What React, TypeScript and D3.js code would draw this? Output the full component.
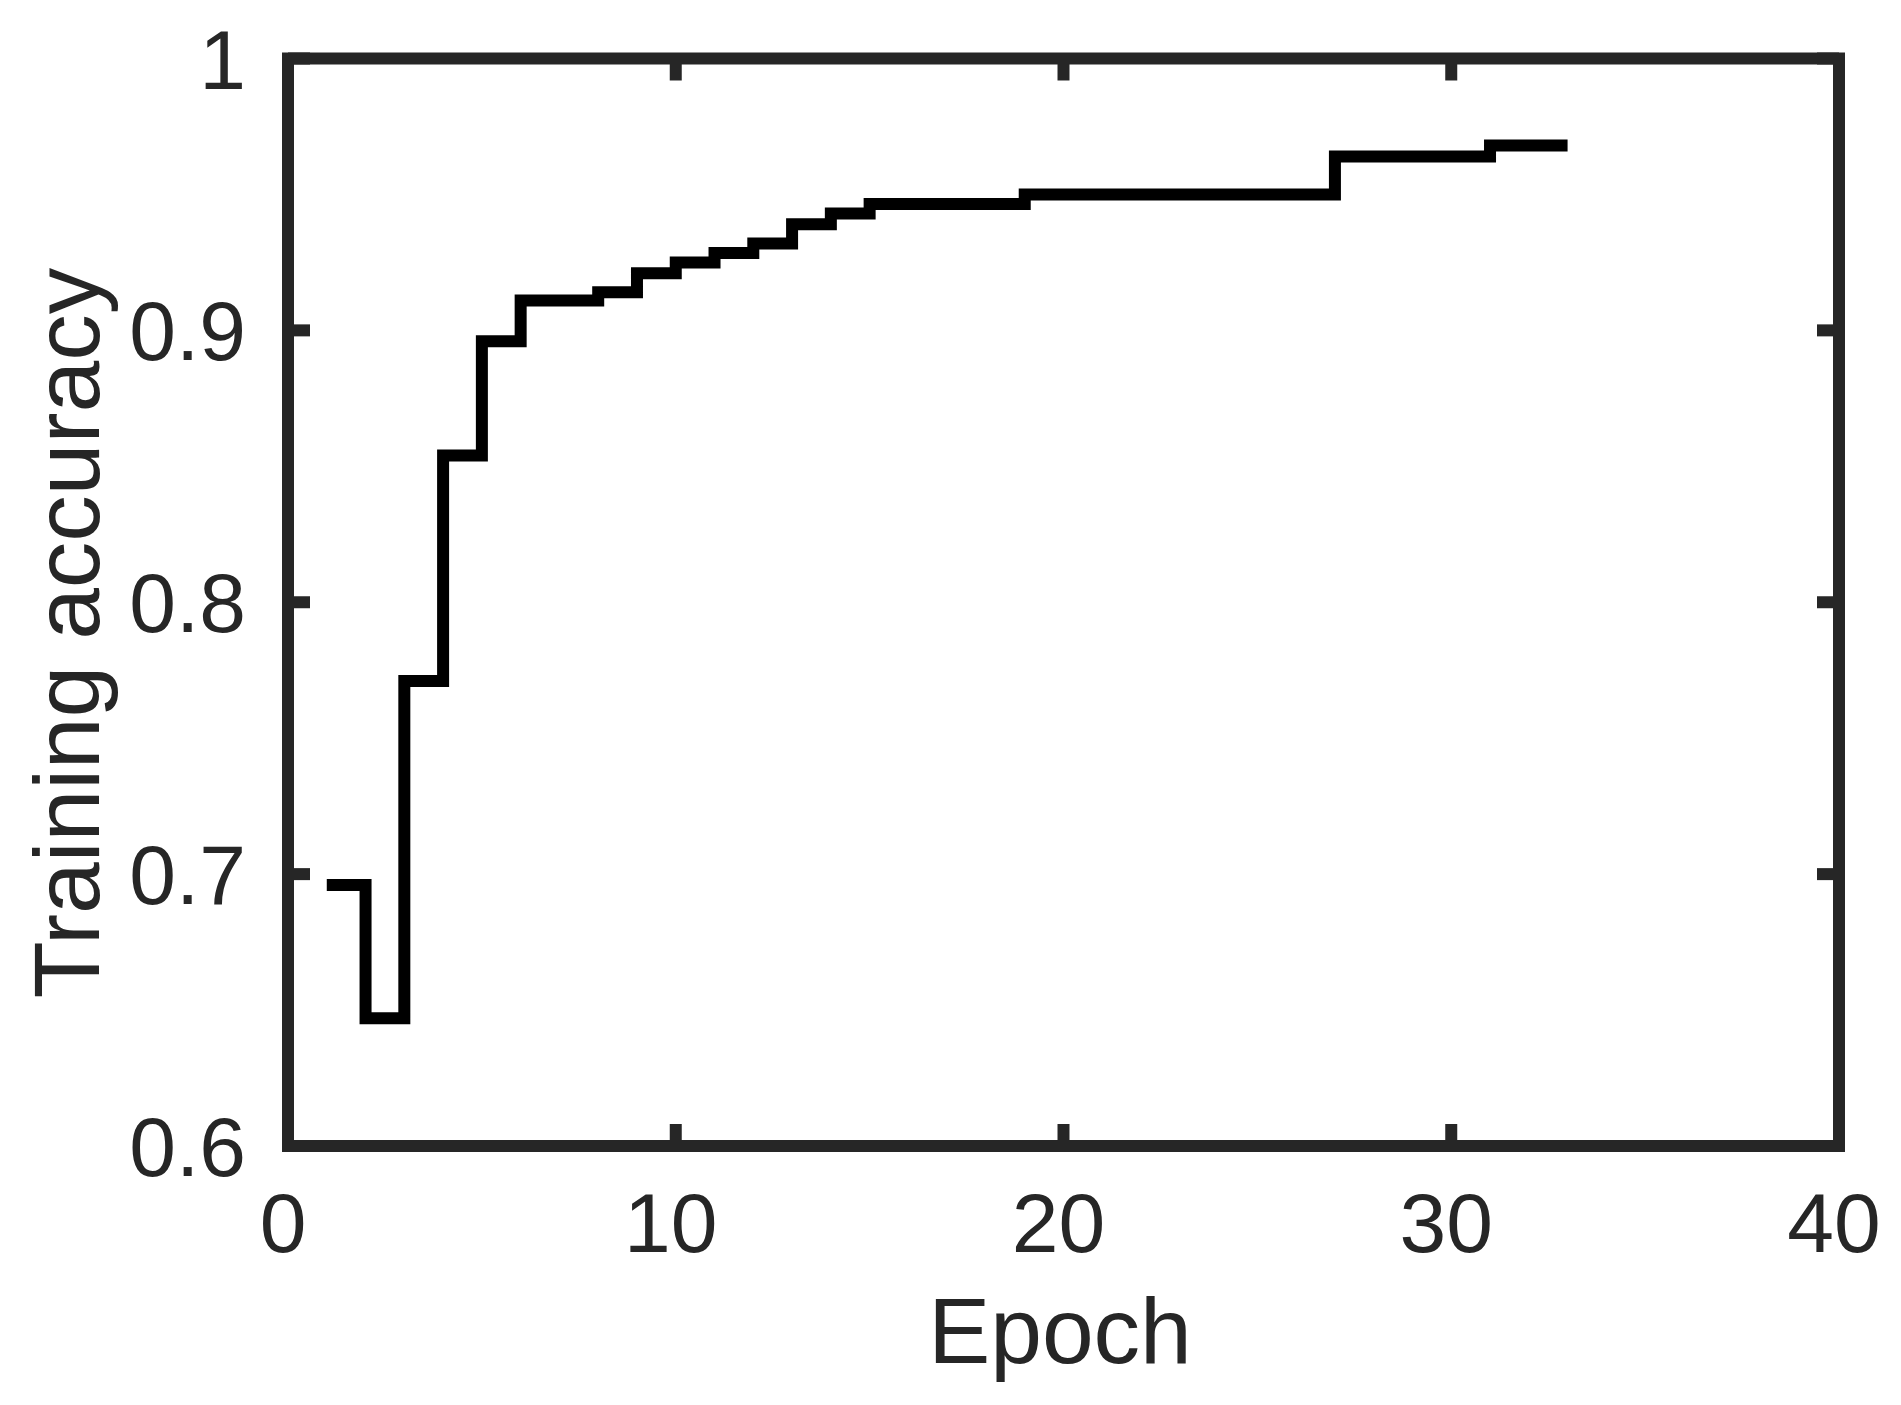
import React from "react";
import * as d3 from "d3";

const epochs = [1, 2, 3, 4, 5, 6, 7, 8, 9, 10, 11, 12, 13, 14, 15, 16, 17, 18, 19, 20, 21, 22, 23, 24, 25, 26, 27, 28, 29, 30, 31, 32, 33];
const accuracy = [
  0.696, 0.647, 0.771, 0.854, 0.896, 0.911, 0.911, 0.914, 0.921, 0.925,
  0.9285, 0.932, 0.939, 0.943, 0.9465, 0.9465, 0.9465, 0.9465,
  0.950, 0.950, 0.950, 0.950, 0.950, 0.950, 0.950, 0.950,
  0.964, 0.964, 0.964, 0.964,
  0.968, 0.968, 0.968,
];
const xTicks = [0, 10, 20, 30, 40];
const yTicks = [0.6, 0.7, 0.8, 0.9, 1];
const xLabel = "Epoch";
const yLabel = "Training accuracy";

const W = 1901;
const H = 1405;
const L = 288, R = 1839, T = 58.5, B = 1146;
const axisColor = "#262626";
const font = "'Liberation Sans', Arial, Helvetica, sans-serif";

export default function App() {
  const x = d3.scaleLinear().domain([0, 40]).range([L, R]);
  const y = d3.scaleLinear().domain([0.6, 1]).range([B, T]);
  const pts: [number, number][] = epochs.map((e, i) => [e, accuracy[i]]);
  const line = d3
    .line<[number, number]>()
    .x((d) => x(d[0]))
    .y((d) => y(d[1]))
    .curve(d3.curveStepAfter);
  const tickLen = 22;
  const fmtY = (v: number) => (v === 1 ? "1" : v.toFixed(1));
  return (
    <svg
      width={W}
      height={H}
      style={{ position: "absolute", left: 0, top: 0, background: "#fff" }}
    >
      <rect x={0} y={0} width={W} height={H} fill="#fff" />
      <path
        d={line(pts) || ""}
        fill="none"
        stroke="#000"
        strokeWidth={12}
        strokeLinejoin="miter"
        strokeLinecap="butt"
      />
      <g stroke={axisColor} strokeWidth={12}>
        {xTicks.map((t) => (
          <g key={"xt" + t}>
            <line x1={x(t)} x2={x(t)} y1={B} y2={B - tickLen} />
            <line x1={x(t)} x2={x(t)} y1={T} y2={T + tickLen} />
          </g>
        ))}
        {yTicks.map((t) => (
          <g key={"yt" + t}>
            <line x1={L} x2={L + tickLen} y1={y(t)} y2={y(t)} />
            <line x1={R} x2={R - tickLen} y1={y(t)} y2={y(t)} />
          </g>
        ))}
        <rect x={L} y={T} width={R - L} height={B - T} fill="none" strokeLinejoin="miter" />
      </g>
      <g fill={axisColor} fontFamily={font} fontSize={84}>
        {xTicks.map((t) => (
          <text key={"xl" + t} x={x(t) - 5} y={1252} textAnchor="middle">
            {String(t)}
          </text>
        ))}
        {yTicks.map((t) => (
          <text key={"yl" + t} x={246} y={y(t) + 30} textAnchor="end">
            {fmtY(t)}
          </text>
        ))}
      </g>
      <text
        x={1060}
        y={1363}
        textAnchor="middle"
        fontFamily={font}
        fontSize={93}
        fill={axisColor}
      >
        {xLabel}
      </text>
      <text
        transform="translate(99,633) rotate(-90)"
        textAnchor="middle"
        fontFamily={font}
        fontSize={93}
        fill={axisColor}
      >
        {yLabel}
      </text>
    </svg>
  );
}
